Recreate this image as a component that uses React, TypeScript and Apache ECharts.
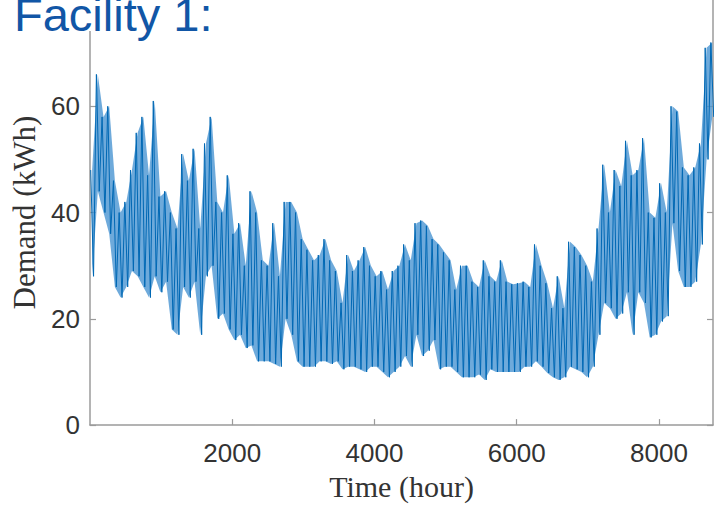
import React, { useEffect, useRef } from "react";
import * as echarts from "echarts";

// Sample times (hour of the year) at which the local peak / trough were read
const hours = [
  30, 110, 190, 270, 350, 430, 510, 590, 670, 750,
  830, 910, 990, 1070, 1150, 1230, 1310, 1390, 1470, 1550,
  1630, 1710, 1790, 1870, 1950, 2030, 2110, 2190, 2270, 2350,
  2430, 2510, 2590, 2670, 2750, 2830, 2910, 2990, 3070, 3150,
  3230, 3310, 3390, 3470, 3550, 3630, 3710, 3790, 3870, 3950,
  4030, 4110, 4190, 4270, 4350, 4430, 4510, 4590, 4670, 4750,
  4830, 4910, 4990, 5070, 5150, 5230, 5310, 5390, 5470, 5550,
  5630, 5710, 5790, 5870, 5950, 6030, 6110, 6190, 6270, 6350,
  6430, 6510, 6590, 6670, 6750, 6830, 6910, 6990, 7070, 7150,
  7230, 7310, 7390, 7470, 7550, 7630, 7710, 7790, 7870, 7950,
  8030, 8110, 8190, 8270, 8350, 8430, 8510, 8590, 8670, 8750,
];

// Local peak demand (kWh) read near each sample time
const highs = [
  48, 66, 58, 60, 46, 40, 42, 48, 55, 58,
  47, 61, 43, 44, 40, 37, 51, 46, 52, 37,
  53, 58, 42, 40, 47, 36, 38, 30, 44, 40,
  31, 30, 38, 28, 42, 42, 40, 35, 33, 31,
  32, 35, 31, 29, 23, 32, 29, 31, 33.5, 30,
  28, 29, 25.5, 29, 30, 34, 31, 38, 38.5, 37.5,
  35, 34, 32.5, 31, 25.5, 30, 30, 27, 26, 31,
  28, 27, 31, 27, 26.5, 26.7, 27, 26, 34, 30,
  26.7, 22, 28, 22, 34.5, 33.5, 32, 30, 27, 37,
  49, 40, 48, 45, 53.5, 47, 48, 54, 40, 39,
  45.5, 40, 60, 59, 48.5, 47, 48.5, 53, 71, 72,
];

// Local trough demand (kWh) read near each sample time
const lows = [
  28, 44, 40, 36, 26, 24, 26, 29, 28, 26,
  24, 28, 25, 27, 18, 17, 26, 24, 27, 17,
  28, 30, 20, 21, 18, 16, 17, 14.5, 15, 12,
  12, 12, 11.5, 11, 20, 17, 12, 11, 11, 11,
  12, 12, 11.5, 12, 10.5, 11, 11, 10.5, 10, 11,
  11, 10, 9, 10, 11, 13, 11, 17, 13, 14,
  16, 10.5, 11, 11, 10, 9, 9, 9, 9.5, 8.5,
  10.5, 10, 10, 10, 10, 10, 11, 11, 12, 11,
  9.8, 9, 8.5, 9, 11, 10.5, 10, 9, 11, 17,
  23, 22, 20, 21, 25, 17, 25, 23, 16.5, 17,
  19.5, 20.5, 38, 29, 26, 26, 27, 34, 50, 58,
];

const yTicks = [0, 20, 40, 60];
const xTicks = [2000, 4000, 6000, 8000];

const AXIS_GRAY = "#9b9b9b";
const SANS = "'Liberation Sans', Arial, Helvetica, sans-serif";
const SERIF = "'Liberation Serif', 'Times New Roman', serif";

export default function App() {
  const ref = useRef<HTMLDivElement>(null);

  useEffect(() => {
    if (!ref.current) return;
    const chart = echarts.init(ref.current, undefined, { renderer: "svg" });

    const demand: [number, number][] = [];
    hours.forEach((h, i) => {
      demand.push([h - 20, highs[i]]);
      demand.push([h + 20, lows[i]]);
    });

    const yCommon = {
      type: "value" as const,
      min: 0,
      max: 80,
      splitLine: { show: false },
      axisLine: { show: true, lineStyle: { color: AXIS_GRAY, width: 1.5 } },
      axisTick: {
        show: true,
        inside: true,
        length: 6,
        customValues: yTicks,
        lineStyle: { color: AXIS_GRAY, width: 1.2 },
      },
    };

    chart.setOption({
      animation: false,
      backgroundColor: "#ffffff",
      grid: { left: 90, right: 7, top: -13, bottom: 79, containLabel: false },
      xAxis: {
        type: "value",
        min: 0,
        max: 8760,
        name: "Time (hour)",
        nameLocation: "middle",
        nameGap: 44,
        nameTextStyle: { fontFamily: SERIF, fontSize: 30, color: "#333333" },
        splitLine: { show: false },
        axisLine: { show: true, lineStyle: { color: AXIS_GRAY, width: 1.5 } },
        axisTick: {
          show: true,
          inside: true,
          length: 6,
          customValues: xTicks,
          lineStyle: { color: AXIS_GRAY, width: 1.2 },
        },
        axisLabel: {
          customValues: xTicks,
          margin: 15,
          fontFamily: SANS,
          fontSize: 26,
          color: "#333333",
          formatter: (v: number) => String(v),
        },
      },
      yAxis: [
        {
          ...yCommon,
          position: "left",
          name: "Demand (kWh)",
          nameLocation: "middle",
          nameGap: 50,
          nameTextStyle: { fontFamily: SERIF, fontSize: 31, color: "#333333" },
          axisLabel: {
            customValues: yTicks,
            margin: 10,
            fontFamily: SANS,
            fontSize: 26,
            color: "#333333",
            formatter: (v: number) => String(v),
          },
        },
        {
          ...yCommon,
          position: "right",
          axisLabel: { show: false },
        },
      ],
      series: [
        {
          type: "custom",
          name: "band",
          data: [0],
          silent: true,
          clip: true,
          z: 1,
          renderItem: (_params: any, api: any) => {
            const top = hours.map((h, i) => api.coord([h, highs[i]]));
            const bottom = hours
              .map((h, i) => api.coord([h, lows[i]]))
              .reverse();
            return {
              type: "polygon",
              shape: { points: top.concat(bottom) },
              style: { fill: "#4a95d2", opacity: 0.8 },
            };
          },
        },
        {
          type: "line",
          name: "Demand",
          data: demand,
          showSymbol: false,
          symbol: "none",
          lineStyle: { color: "#0068b4", width: 1 },
          itemStyle: { color: "#0068b4" },
          z: 2,
        },
      ],
      graphic: [
        {
          type: "rect",
          shape: { x: 0, y: 0, width: 225, height: 31 },
          style: { fill: "#ffffff" },
          z: 100,
        },
        {
          type: "text",
          x: 14,
          y: 14,
          z: 101,
          style: {
            text: "Facility 1:",
            fontFamily: SANS,
            fontSize: 47,
            fill: "#1156A6",
            verticalAlign: "middle",
            align: "left",
          },
        },
      ],
    });

    return () => chart.dispose();
  }, []);

  return (
    <div
      ref={ref}
      style={{ position: "fixed", left: 0, top: 0, width: 720, height: 506 }}
    />
  );
}
